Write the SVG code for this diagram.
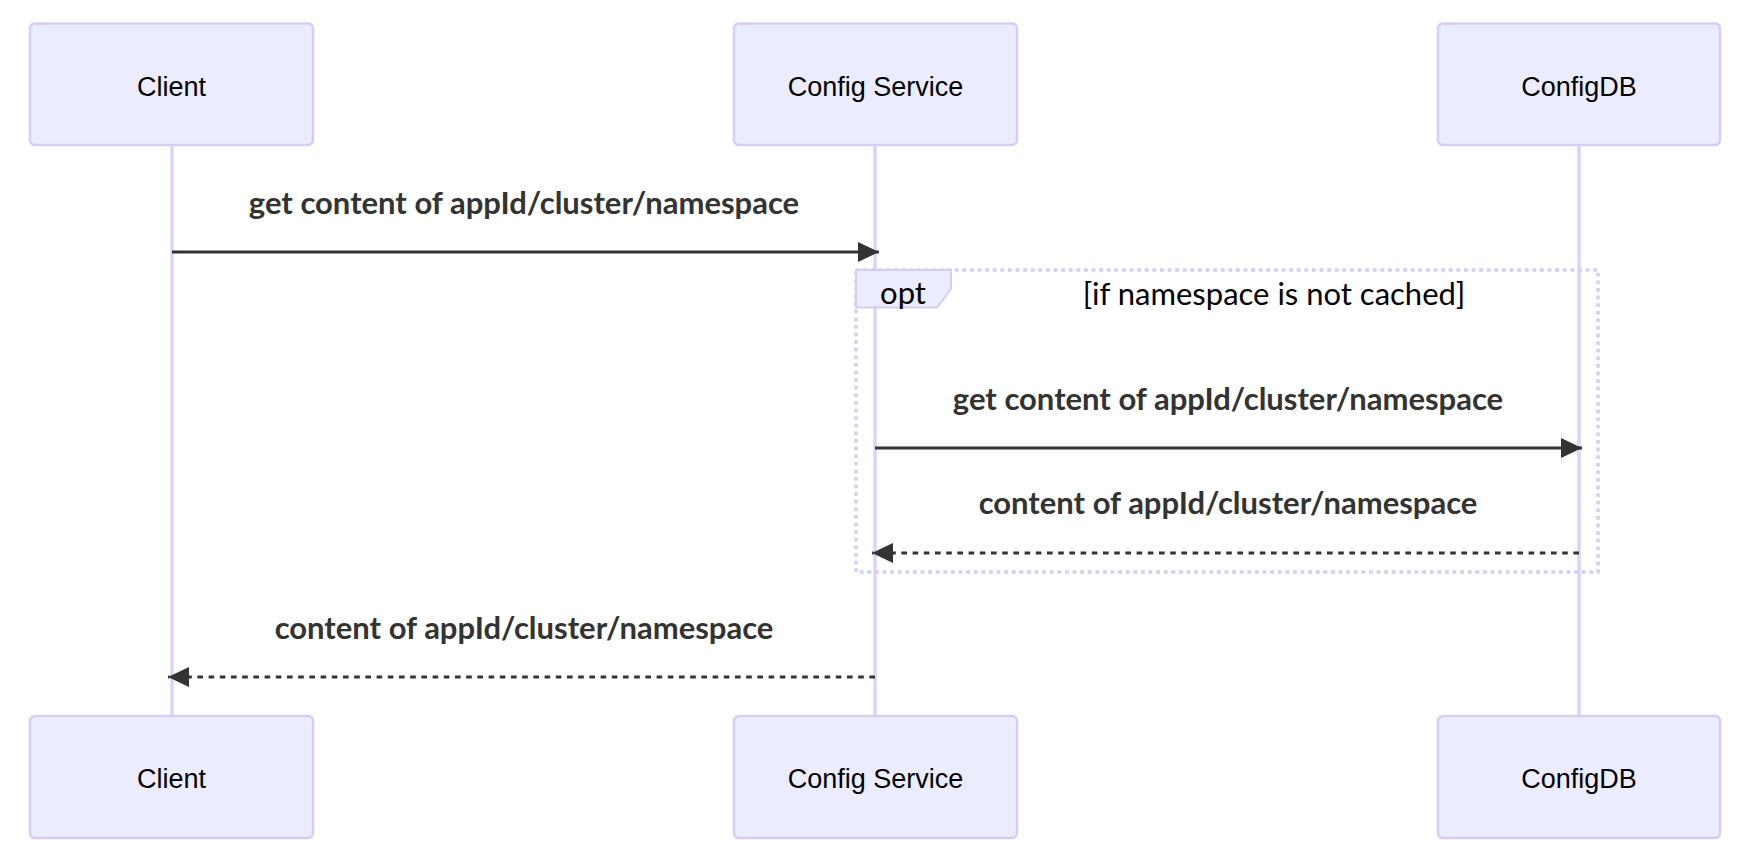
<svg xmlns="http://www.w3.org/2000/svg" width="1740" height="856" viewBox="0 0 1740 856">
<style>
.actor{fill:#ececff;stroke:#d6ccf5;stroke-width:2.5}
.atext{font-family:"Liberation Sans",Arial,sans-serif;font-size:27px;fill:#000;text-anchor:middle;dominant-baseline:central}
.life{stroke:#dcd3f7;stroke-width:3.5}
.msg{stroke:#333;stroke-width:2.8;fill:none}
.dash{stroke-dasharray:5.6 5.6}
.mtext{font-family:Lato,"Open Sans",sans-serif;font-weight:bold;font-size:31px;fill:#333;text-anchor:middle}
.loop{fill:none;stroke:#d6ccf5;stroke-width:3.5;stroke-dasharray:3.8 3.8}
.lbl{fill:#ececff;stroke:#d6ccf5;stroke-width:2}
.ltext{font-family:Lato,"Open Sans",sans-serif;font-size:31px;fill:#000;text-anchor:middle}
</style>
<defs>
<marker id="ah" markerUnits="userSpaceOnUse" markerWidth="22" markerHeight="22" refX="21" refY="10" orient="auto">
<path d="M0,0 L21,10 L0,20 Z" fill="#333"/>
</marker>
</defs>
<rect width="1740" height="856" fill="#fff"/>
<g id="lifelines">
<line class="life" x1="172" y1="145" x2="172" y2="716"/>
<line class="life" x1="875" y1="145" x2="875" y2="716"/>
<line class="life" x1="1579" y1="145" x2="1579" y2="716"/>
</g>
<g id="actor-client-top"><rect class="actor" x="30" y="23.5" width="283" height="121.5" rx="5"/><text class="atext" x="171.5" y="86.5">Client</text></g>
<g id="actor-config-service-top"><rect class="actor" x="734" y="23.5" width="283" height="121.5" rx="5"/><text class="atext" x="875.5" y="86.5">Config Service</text></g>
<g id="actor-configdb-top"><rect class="actor" x="1438" y="23.5" width="282" height="121.5" rx="5"/><text class="atext" x="1579" y="86.5">ConfigDB</text></g>
<g id="opt-fragment">
<rect class="loop" x="856" y="270" width="742" height="302"/>
<path class="lbl" d="M856,270 L951,270 L951,289 L937,307.5 L856,307.5 Z"/>
<text class="ltext" x="903" y="303.5">opt</text>
<text class="ltext" x="1274" y="304.5">[if namespace is not cached]</text>
</g>
<g id="connectors">
<line class="msg" x1="172" y1="252" x2="879" y2="252" marker-end="url(#ah)"/>
<text class="mtext" x="524" y="213.5">get content of appId/cluster/namespace</text>
<line class="msg" x1="875" y1="448" x2="1582" y2="448" marker-end="url(#ah)"/>
<text class="mtext" x="1228" y="410">get content of appId/cluster/namespace</text>
<line class="msg dash" x1="1579" y1="553" x2="872" y2="553" marker-end="url(#ah)"/>
<text class="mtext" x="1228" y="514">content of appId/cluster/namespace</text>
<line class="msg dash" x1="875" y1="677" x2="168" y2="677" marker-end="url(#ah)"/>
<text class="mtext" x="524" y="638.5">content of appId/cluster/namespace</text>
</g>
<g id="actor-client-bottom"><rect class="actor" x="30" y="716" width="283" height="122" rx="5"/><text class="atext" x="171.5" y="778.5">Client</text></g>
<g id="actor-config-service-bottom"><rect class="actor" x="734" y="716" width="283" height="122" rx="5"/><text class="atext" x="875.5" y="778.5">Config Service</text></g>
<g id="actor-configdb-bottom"><rect class="actor" x="1438" y="716" width="282" height="122" rx="5"/><text class="atext" x="1579" y="778.5">ConfigDB</text></g>
</svg>
